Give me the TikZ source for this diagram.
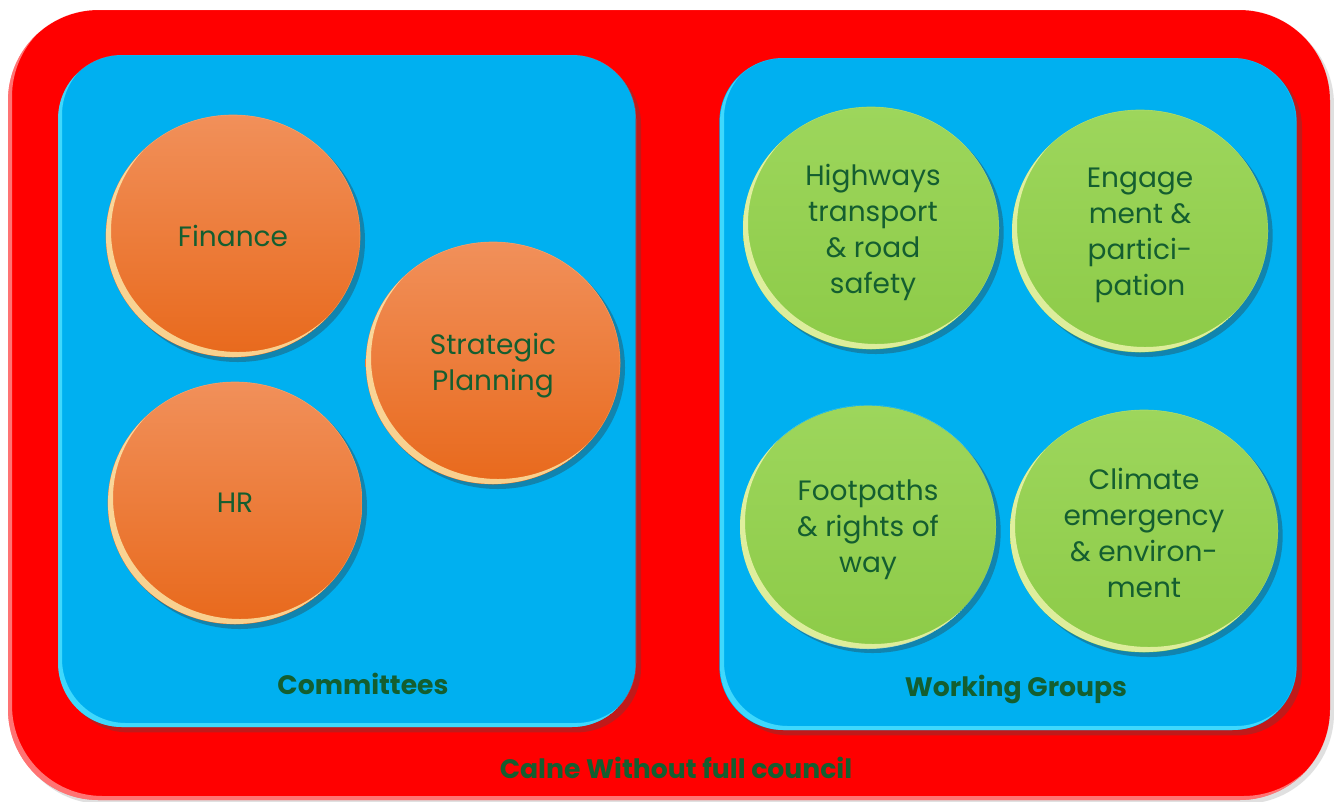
\documentclass[tikz,border=0pt]{standalone}
\usepackage{fontspec}
\setmainfont{Poppins}
\usetikzlibrary{shapes.geometric,shadows}
\definecolor{txtgreen}{HTML}{145E30}
\definecolor{panelblue}{HTML}{00B0F0}
\definecolor{rimcyan}{HTML}{4FE3FF}
\definecolor{orTop}{HTML}{F1905A}
\definecolor{orBot}{HTML}{E8691C}
\definecolor{grTop}{HTML}{9DD65C}
\definecolor{grBot}{HTML}{8DCB48}
\tikzset{
  outerbox/.style={rectangle, rounded corners=68pt, fill=red, minimum width=991.5pt, minimum height=592.5pt,
    drop shadow={shadow xshift=3pt, shadow yshift=-3pt, opacity=.2, fill=black!60}},
  panel/.style={rectangle, rounded corners=48pt, fill=panelblue, minimum width=433pt, minimum height=504pt,
    drop shadow={shadow xshift=4pt, shadow yshift=-4pt, opacity=.35, fill=black!70}},
  bubbletext/.style={align=center, text=txtgreen, font=\fontsize{21}{27}\selectfont, inner sep=0pt},
  grouplabel/.style={text=txtgreen, font=\fontsize{20}{24}\selectfont\bfseries, inner sep=0pt},
  orbub/.style={ellipse, top color=orTop, bottom color=orBot, minimum width=191pt, minimum height=182pt,
    drop shadow={shadow xshift=3.5pt, shadow yshift=-3.5pt, opacity=.35, fill=black!80}},
  grbub/.style={ellipse, top color=grTop, bottom color=grBot, minimum width=192pt, minimum height=182pt,
    drop shadow={shadow xshift=3.5pt, shadow yshift=-3.5pt, opacity=.35, fill=black!80}},
}
% highlight crescent on the lower-left rim of a bubble: #1 x, #2 y, #3 rx, #4 ry
\newcommand{\rimlight}[4]{%
  \begin{scope}
    \clip (#1,#2) ellipse [x radius=#3, y radius=#4];
    \fill[yellow!25!white, opacity=.7, even odd rule] (#1,#2) ellipse [x radius=#3, y radius=#4]
      (#1+5,#2-5) ellipse [x radius=#3, y radius=#4];
  \end{scope}}
% light rim on the lower-left of a rounded box: #1 x1, #2 y1, #3 x2, #4 y2
\newcommand{\boxrim}[5]{%
  \begin{scope}
    \clip[rounded corners=#5] (#1,#2) rectangle (#3,#4);
    \fill[#1 ,opacity=0] (0,0) rectangle (0,0);
  \end{scope}}
\begin{document}
\begin{tikzpicture}[x=0.75pt,y=-0.75pt]
\useasboundingbox (0,0) rectangle (1334,801);
\fill[white] (0,0) rectangle (1334,801);
% outer council box
\node[outerbox] (council) at (669,405) {};
\begin{scope}
  \clip[rounded corners=68pt] (8,10) rectangle (1330,800);
  \fill[white, opacity=.45, even odd rule, rounded corners=68pt] (8,10) rectangle (1330,800)
    (12,6) rectangle (1334,796);
\end{scope}
% panels
\node[panel] (committees) at (347,391) {};
\node[panel] (working) at (1008,394) {};
\begin{scope}
  \clip[rounded corners=48pt] (58,55) rectangle (636,727);
  \fill[rimcyan, opacity=.8, even odd rule, rounded corners=48pt] (58,55) rectangle (636,727)
    (62,51) rectangle (640,723);
\end{scope}
\begin{scope}
  \clip[rounded corners=48pt] (720,58) rectangle (1296,730);
  \fill[rimcyan, opacity=.8, even odd rule, rounded corners=48pt] (720,58) rectangle (1296,730)
    (724,54) rectangle (1300,726);
\end{scope}
% orange bubbles
\node[orbub] (finance) at (233,236) {};
\rimlight{233}{236}{127}{121}
\node[bubbletext] (financet) at (finance.center) {Finance};
\node[orbub] (strategic) at (493,363) {};
\rimlight{493}{363}{127}{121}
\node[bubbletext] (strategict) at (493,366) {Strategic\\Planning};
\node[orbub] (hr) at (235,503) {};
\rimlight{235}{503}{127}{121}
\node[bubbletext] (hrt) at (hr.center) {HR};
% green bubbles
\node[grbub] (highways) at (871,228) {};
\rimlight{871}{228}{128}{121}
\node[bubbletext] (highwayst) at (873,232) {Highways\\transport\\\&\ road\\safety};
\node[grbub] (engage) at (1140,231) {};
\rimlight{1140}{231}{128}{121}
\node[bubbletext] (engaget) at (1140,235) {Engage\\ment \&\\partici-\\pation};
\node[grbub] (footpaths) at (868,527) {};
\rimlight{868}{527}{128}{122}
\node[bubbletext] (footpathst) at (868,530) {Footpaths\\\&\ rights of\\way};
\node[grbub, minimum width=201pt] (climate) at (1144,531) {};
\rimlight{1144}{531}{134}{121}
\node[bubbletext] (climatet) at (1144,533) {Climate\\emergency\\\&\ environ-\\ment};
% labels
\node[grouplabel] (committeeslabel) at (363,684) {Committees};
\node[grouplabel] (workinglabel) at (1016,689) {Working Groups};
\node[grouplabel] (councillabel) at (676,768) {Calne Without full council};
\end{tikzpicture}
\end{document}
